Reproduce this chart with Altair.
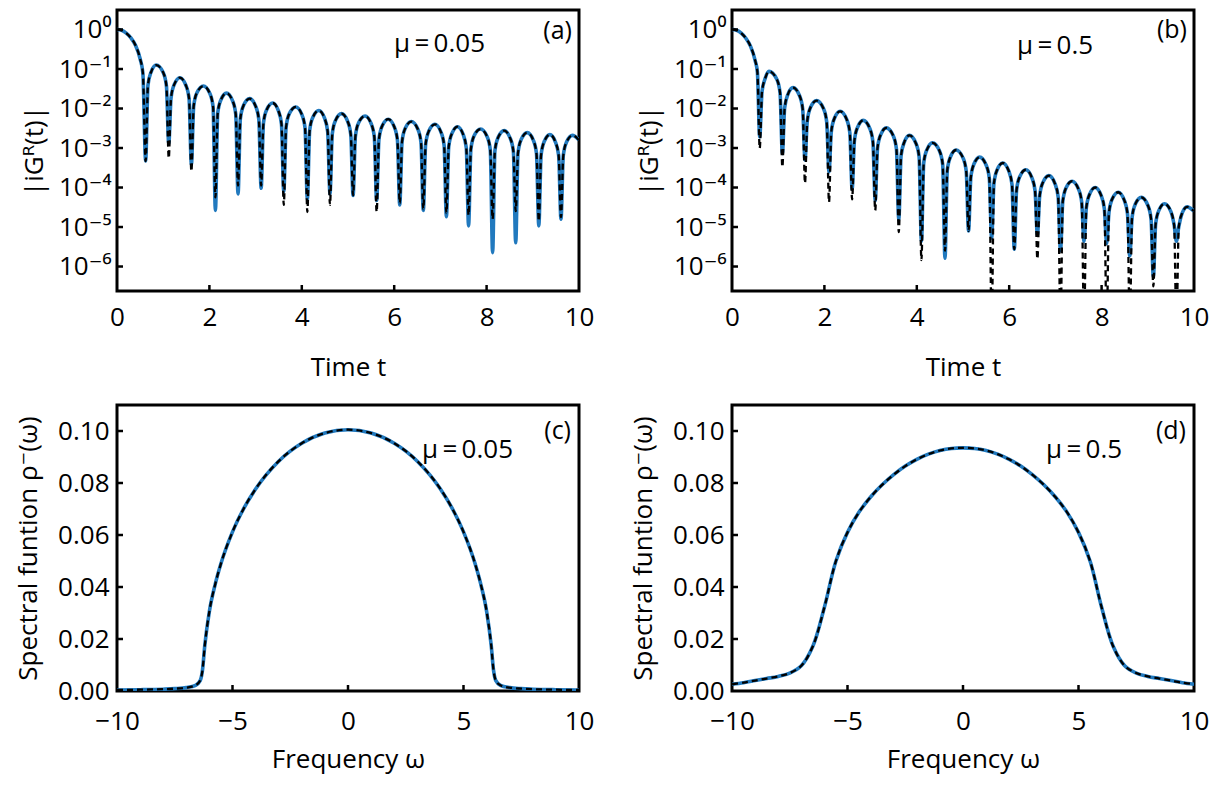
import altair as alt
import pandas as pd

FONT = "'Open Sans', 'DejaVu Sans', sans-serif"
BLUE = "#2179be"
FS = 26
W, H_TOP, H_BOT = 462, 281, 286

# ---------------- tick values / labels ----------------
top_x_ticks = [0, 2, 4, 6, 8, 10]
top_x_inner = [2, 4, 6, 8]
top_y_ticks = [1, 1e-1, 1e-2, 1e-3, 1e-4, 1e-5, 1e-6]
top_y_labels = ["10⁰", "10⁻¹", "10⁻²", "10⁻³", "10⁻⁴", "10⁻⁵", "10⁻⁶"]
bot_x_ticks = [-10, -5, 0, 5, 10]
bot_x_inner = [-5, 0, 5]
bot_y_ticks = [0, 0.02, 0.04, 0.06, 0.08, 0.10]
bot_y_inner = [0.02, 0.04, 0.06, 0.08, 0.10]

# ---------------- panel (a): mu = 0.05, log10 |iG^R(t)| ----------------
a_smooth_t = [0, 0.1, 0.2, 0.3, 0.4, 0.5, 0.56,
    0.67, 0.74, 0.85, 1.00, 1.07,
    1.17, 1.24, 1.36, 1.49, 1.56,
    1.66, 1.73, 1.87, 2.01, 2.08,
    2.18, 2.25, 2.37, 2.50, 2.57,
    2.67, 2.74, 2.87, 3.00, 3.07,
    3.17, 3.24, 3.37, 3.49, 3.56,
    3.66, 3.73, 3.87, 4.00, 4.07,
    4.17, 4.24, 4.37, 4.49, 4.56,
    4.66, 4.73, 4.86, 4.99, 5.06,
    5.16, 5.23, 5.37, 5.50, 5.57,
    5.67, 5.74, 5.87, 6.00, 6.07,
    6.17, 6.24, 6.37, 6.51, 6.58,
    6.68, 6.75, 6.88, 7.01, 7.08,
    7.18, 7.25, 7.37, 7.49, 7.56,
    7.66, 7.73, 7.87, 8.01, 8.08,
    8.18, 8.25, 8.38, 8.51, 8.58,
    8.68, 8.75, 8.88, 9.01, 9.08,
    9.18, 9.25, 9.37, 9.49, 9.56,
    9.66, 9.73, 9.86, 10.0]
a_smooth_log = [0, -0.02, -0.09, -0.21, -0.40, -0.74, -1.10,
    -1.41, -1.07, -0.90, -1.09, -1.43,
    -1.73, -1.39, -1.22, -1.41, -1.75,
    -1.94, -1.60, -1.43, -1.62, -1.96,
    -2.12, -1.78, -1.61, -1.80, -2.14,
    -2.26, -1.92, -1.75, -1.94, -2.28,
    -2.37, -2.03, -1.86, -2.05, -2.39,
    -2.47, -2.13, -1.96, -2.15, -2.49,
    -2.56, -2.22, -2.05, -2.24, -2.58,
    -2.64, -2.30, -2.13, -2.32, -2.66,
    -2.70, -2.36, -2.19, -2.38, -2.72,
    -2.78, -2.44, -2.27, -2.46, -2.80,
    -2.84, -2.50, -2.33, -2.52, -2.86,
    -2.91, -2.57, -2.40, -2.59, -2.93,
    -2.97, -2.63, -2.46, -2.65, -2.99,
    -3.03, -2.69, -2.52, -2.71, -3.05,
    -3.07, -2.73, -2.56, -2.75, -3.09,
    -3.12, -2.78, -2.61, -2.80, -3.14,
    -3.17, -2.83, -2.66, -2.85, -3.19,
    -3.19, -2.85, -2.68, -2.80]
a_dip_t = [0.62, 1.12, 1.61, 2.13, 2.62, 3.12, 3.61, 4.12, 4.61, 5.11,
           5.62, 6.12, 6.63, 7.13, 7.61, 8.13, 8.63, 9.13, 9.61]
a_dip_blue = [-3.33, -2.89, -3.42, -4.58, -4.16, -4.02, -4.10, -4.30, -4.16, -4.20,
              -4.33, -4.44, -4.58, -4.74, -4.97, -5.65, -5.40, -4.97, -4.80]
a_dip_black = [-3.33, -3.26, -3.59, -4.25, -3.95, -3.95, -4.44, -4.62, -4.44, -4.20,
               -4.62, -4.40, -4.55, -4.65, -4.70, -4.80, -4.60, -4.85, -4.75]

# ---------------- panel (b): mu = 0.5, log10 |iG^R(t)| ----------------
b_smooth_t = [0, 0.1, 0.2, 0.3, 0.4, 0.5, 0.55,
    0.65, 0.72, 0.80, 0.97, 1.04,
    1.14, 1.21, 1.32, 1.46, 1.53,
    1.63, 1.70, 1.83, 1.98, 2.05,
    2.15, 2.22, 2.34, 2.48, 2.55,
    2.65, 2.72, 2.84, 2.98, 3.05,
    3.15, 3.22, 3.34, 3.49, 3.56,
    3.66, 3.73, 3.84, 3.98, 4.05,
    4.15, 4.22, 4.34, 4.49, 4.56,
    4.66, 4.73, 4.85, 5.00, 5.07,
    5.17, 5.24, 5.36, 5.50, 5.57,
    5.67, 5.74, 5.86, 5.99, 6.06,
    6.16, 6.23, 6.36, 6.49, 6.56,
    6.66, 6.73, 6.86, 6.99, 7.06,
    7.16, 7.23, 7.36, 7.50, 7.57,
    7.67, 7.74, 7.86, 7.99, 8.06,
    8.16, 8.23, 8.36, 8.49, 8.56,
    8.66, 8.73, 8.86, 9.00, 9.07,
    9.17, 9.24, 9.36, 9.50, 9.57,
    9.67, 9.74, 9.85, 10.0]
b_smooth_log = [0, -0.02, -0.09, -0.22, -0.42, -0.78, -1.08,
    -1.57, -1.23, -1.06, -1.26, -1.60,
    -1.98, -1.64, -1.47, -1.67, -2.01,
    -2.31, -1.97, -1.80, -2.00, -2.34,
    -2.58, -2.24, -2.07, -2.27, -2.61,
    -2.81, -2.47, -2.30, -2.50, -2.84,
    -3.00, -2.66, -2.49, -2.69, -3.03,
    -3.19, -2.85, -2.68, -2.88, -3.22,
    -3.38, -3.04, -2.87, -3.07, -3.41,
    -3.56, -3.22, -3.05, -3.25, -3.59,
    -3.74, -3.40, -3.23, -3.43, -3.77,
    -3.89, -3.55, -3.38, -3.58, -3.92,
    -4.06, -3.72, -3.55, -3.75, -4.09,
    -4.21, -3.87, -3.70, -3.90, -4.24,
    -4.35, -4.01, -3.84, -4.04, -4.38,
    -4.51, -4.17, -4.00, -4.20, -4.54,
    -4.63, -4.29, -4.12, -4.32, -4.66,
    -4.76, -4.42, -4.25, -4.45, -4.79,
    -4.92, -4.58, -4.41, -4.61, -4.95,
    -5.00, -4.66, -4.49, -4.60]
b_dip_t = [0.60, 1.09, 1.58, 2.10, 2.60, 3.10, 3.61, 4.10, 4.61, 5.12,
           5.62, 6.11, 6.61, 7.11, 7.62, 8.11, 8.61, 9.12, 9.62]
b_dip_blue = [-2.72, -3.14, -3.30, -3.60, -4.04, -4.33, -4.81, -5.36, -5.79, -5.10,
              -5.28, -5.56, -5.20, -5.60, -5.36, -5.42, -5.73, -6.26, -5.36]
b_dip_black = [-3.01, -3.48, -3.89, -4.37, -4.30, -4.58, -5.13, -5.84, -5.60, -5.10,
               -7.50, -5.56, -5.81, -7.50, -7.50, -7.50, -7.50, -6.50, -7.50]

# ---------------- panel (c): mu = 0.05, spectral function ----------------
c_omega = [-10, -9, -8, -7.5, -7, -6.6, -6.4, -6.3, -6.2, -6.0, -5.75, -5.5, -5, -4.5, -4,
           -3, -2, -1, 0, 1, 2, 3, 4, 4.5, 5, 5.5, 5.75, 6.0, 6.2, 6.3, 6.4, 6.6, 7, 7.5,
           8, 9, 10]
c_rho = [0.0004, 0.0005, 0.0007, 0.0009, 0.0013, 0.0022, 0.0040, 0.0080, 0.0175, 0.0307,
         0.0410, 0.0490, 0.0612, 0.0704, 0.0777, 0.0884, 0.0953, 0.0992, 0.1005, 0.0992,
         0.0953, 0.0884, 0.0777, 0.0704, 0.0612, 0.0490, 0.0410, 0.0307, 0.0175, 0.0080,
         0.0040, 0.0022, 0.0013, 0.0009, 0.0007, 0.0005, 0.0004]

# ---------------- panel (d): mu = 0.5, spectral function ----------------
d_omega = [-10, -9.5, -9, -8.5, -8, -7.5, -7, -6.5, -6, -5.5, -5, -4.5, -4, -3.5, -3,
           -2.5, -2, -1.5, -1, -0.5, 0, 0.5, 1, 1.5, 2, 2.5, 3, 3.5, 4, 4.5, 5, 5.5,
           6, 6.5, 7, 7.5, 8, 8.5, 9, 9.5, 10]
d_rho = [0.0026, 0.0032, 0.0040, 0.0048, 0.0056, 0.0069, 0.0097, 0.0172, 0.0322, 0.0500,
         0.0610, 0.0688, 0.0746, 0.0793, 0.0832, 0.0865, 0.0891, 0.0911, 0.0925, 0.0933,
         0.0935, 0.0933, 0.0925, 0.0911, 0.0891, 0.0865, 0.0832, 0.0793, 0.0746, 0.0688,
         0.0610, 0.0500, 0.0322, 0.0172, 0.0097, 0.0069, 0.0056, 0.0048, 0.0040, 0.0032,
         0.0026]

TOP_YMIN = 10 ** -6.62
TOP_YMAX = 10 ** 0.494

label_expr = "[" + ",".join("'" + s + "'" for s in top_y_labels) + "][round(-log(datum.value)/LN10)]"


def series(st, sl, dt, dl):
    df = pd.DataFrame({"t": list(st) + list(dt), "lg": list(sl) + list(dl)})
    df = df.sort_values("t").reset_index(drop=True)
    df["v"] = 10.0 ** df["lg"]
    return df


def annotations(mu, tag, mu_xy, tag_xy):
    m = alt.Chart(pd.DataFrame({"s": [mu]})).mark_text(
        font=FONT, fontSize=FS, align="left", baseline="middle", color="black"
    ).encode(text="s:N", x=alt.value(mu_xy[0]), y=alt.value(mu_xy[1]))
    g = alt.Chart(pd.DataFrame({"s": [tag]})).mark_text(
        font=FONT, fontSize=FS - 1, align="right", baseline="middle", color="black"
    ).encode(text="s:N", x=alt.value(tag_xy[0]), y=alt.value(tag_xy[1]))
    return [m, g]


def top_panel(st, sl, dt, dblue, dblack, mu, tag, mu_xy, tag_xy):
    blue = series(st, sl, dt, dblue)
    black = series(st, sl, dt, dblack)
    xs = alt.Scale(domain=[0, 10], nice=False, zero=False)
    ys = alt.Scale(type="log", domain=[TOP_YMIN, TOP_YMAX], nice=False)
    xax = alt.Axis(values=top_x_ticks, title="Time t", labelPadding=13, titleY=63)
    yax = alt.Axis(values=top_y_ticks, labelExpr=label_expr, title="|iGᴿ(t)|",
                   titleX=-70, labelPadding=6)
    X = alt.X("t:Q", scale=xs, axis=xax)
    Y = alt.Y("v:Q", scale=ys, axis=yax)
    l1 = alt.Chart(blue).mark_line(color=BLUE, strokeWidth=3.6, interpolate="monotone",
                                   clip=True).encode(x=X, y=Y)
    l2 = alt.Chart(black).mark_line(color="black", strokeWidth=2.3, strokeDash=[6, 4],
                                    interpolate="monotone", clip=True).encode(x=X, y=Y)
    yt = alt.Chart(pd.DataFrame({"v": top_y_ticks})).mark_rule(
        color="black", strokeWidth=2.5).encode(y=Y, x=alt.value(0), x2=alt.value(6))
    xt = alt.Chart(pd.DataFrame({"t": top_x_inner})).mark_rule(
        color="black", strokeWidth=2.5).encode(x=X, y=alt.value(H_TOP), y2=alt.value(H_TOP - 6))
    return alt.layer(l1, l2, yt, xt, *annotations(mu, tag, mu_xy, tag_xy)).properties(
        width=W, height=H_TOP)


def bot_panel(om, rho, mu, tag, mu_xy, tag_xy, interp):
    df = pd.DataFrame({"w": om, "r": rho})
    xs = alt.Scale(domain=[-10, 10], nice=False, zero=False)
    ys = alt.Scale(domain=[0, 0.11], nice=False, zero=False)
    xax = alt.Axis(values=bot_x_ticks, title="Frequency ω", labelPadding=17, titleY=55)
    yax = alt.Axis(values=bot_y_ticks, format=".2f", title="Spectral funtion ρ⁻(ω)",
                   titleX=-76, labelPadding=8)
    X = alt.X("w:Q", scale=xs, axis=xax)
    Y = alt.Y("r:Q", scale=ys, axis=yax)
    l1 = alt.Chart(df).mark_line(color=BLUE, strokeWidth=3.6, interpolate=interp,
                                 clip=True).encode(x=X, y=Y)
    l2 = alt.Chart(df).mark_line(color="black", strokeWidth=2.3, strokeDash=[6, 4],
                                 interpolate=interp, clip=True).encode(x=X, y=Y)
    yt = alt.Chart(pd.DataFrame({"r": bot_y_inner})).mark_rule(
        color="black", strokeWidth=2.5).encode(y=Y, x=alt.value(0), x2=alt.value(6))
    xt = alt.Chart(pd.DataFrame({"w": bot_x_inner})).mark_rule(
        color="black", strokeWidth=2.5).encode(x=X, y=alt.value(H_BOT), y2=alt.value(H_BOT - 6))
    return alt.layer(l1, l2, yt, xt, *annotations(mu, tag, mu_xy, tag_xy)).properties(
        width=W, height=H_BOT)


pa = top_panel(a_smooth_t, a_smooth_log, a_dip_t, a_dip_blue, a_dip_black,
               "μ\u2009=\u20090.05", "(a)", (277, 34), (455, 21))
pb = top_panel(b_smooth_t, b_smooth_log, b_dip_t, b_dip_blue, b_dip_black,
               "μ\u2009=\u20090.5", "(b)", (285, 36), (455, 20))
pc = bot_panel(c_omega, c_rho, "μ\u2009=\u20090.05", "(c)", (305, 45), (454, 26), "monotone")
pd_ = bot_panel(d_omega, d_rho, "μ\u2009=\u20090.5", "(d)", (314, 45), (454, 26), "catmull-rom")

chart = alt.concat(
    pa, pb, pc, pd_, columns=2,
    spacing={"row": 114, "column": 153}, bounds="flush",
).properties(
    padding={"left": 5, "top": 0, "right": 0, "bottom": 0},
    background="white",
).configure_view(
    stroke="black", strokeWidth=3
).configure_axis(
    domain=False, ticks=False, tickSize=0, grid=False,
    labelFont=FONT, labelFontSize=FS, labelColor="black", labelFlush=False,
    titleFont=FONT, titleFontSize=FS, titleColor="black", titleFontWeight="normal",
)

chart.save("out.html", embed_options={"renderer": "svg", "actions": False})
